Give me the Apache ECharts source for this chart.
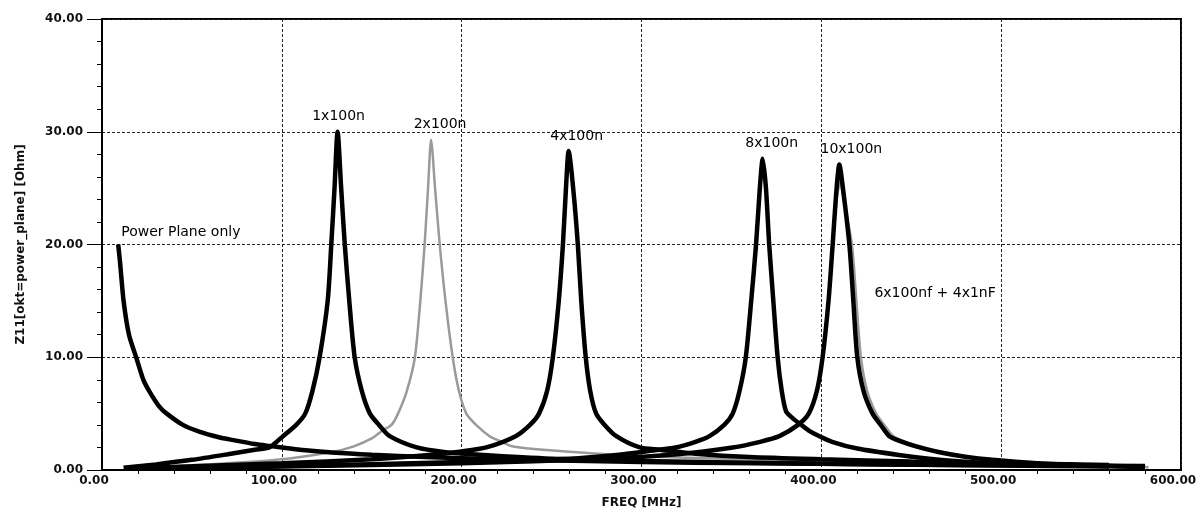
<!DOCTYPE html>
<html>
<head>
<meta charset="utf-8">
<script src="https://cdn.jsdelivr.net/npm/echarts@6/dist/echarts.min.js"></script>
<style>
html,body{margin:0;padding:0;background:#fff;}
#chart{width:1204px;height:515px;}
</style>
</head>
<body>
<div id="chart"></div>
<script>
// [frequency MHz, impedance Ohm]
const powerPlaneOnly = [[9,20],[10,18.5],[12,15],[15,12],[19,10],[23,8],[27,6.8],[32,5.6],[36,5],[45,4],[54,3.4],[65,2.9],[73,2.65],[85,2.3],[92,2.15],[100,2.0],[110,1.8],[128,1.55],[150,1.35],[180,1.15],[220,0.95],[270,0.8],[330,0.65],[400,0.55],[480,0.45],[580,0.35]];
const c1x100n = [[12,0.2],[30,0.5],[50,0.9],[70,1.4],[85,1.8],[93,2],[100.7,3],[108,4],[113,5],[117,7],[121,10],[125.5,15],[127.5,20],[129.3,25],[131,30],[133,25],[135,20],[137.5,15],[140.5,10],[144.5,7],[149,5],[154,4],[160,3],[175,2.0],[190,1.6],[210,1.35],[250,1.0],[300,0.8],[400,0.55],[500,0.4],[560,0.3]];
const c2x100n = [[20,0.2],[60,0.5],[97,0.9],[128,1.6],[140,2.1],[150,2.8],[156,3.5],[161,4],[164.6,5],[169.5,7],[174,10],[177,15],[179.4,20],[181.3,25],[183,29.3],[185.2,25],[187.8,20],[191,15],[195,10],[198.5,7],[202.6,5],[208,4],[215.5,3],[221,2.6],[228,2.1],[249,1.75],[304,1.2],[400,0.8],[500,0.55],[570,0.4]];
const c4x100n = [[20,0.15],[100,0.6],[150,0.95],[180,1.3],[200,1.65],[213.7,2],[230,3],[238,4],[243,5],[247.5,7],[250.7,10],[254,15],[256.3,20],[258,25],[259.5,28.3],[262,25],[264.6,20],[266.5,15],[269,10],[271.5,7],[274.8,5],[279.5,4],[286,3],[299,2],[310,1.8],[330,1.45],[360,1.15],[400,0.95],[450,0.75],[500,0.6],[560,0.45]];
const c8x100n = [[15,0.1],[100,0.35],[200,0.7],[260,1.0],[290,1.4],[305,1.7],[319,2],[330,2.5],[337.8,3],[346,4],[350.7,5],[354.5,7],[358,10],[361,15],[363.7,20],[365.8,25],[367.4,27.6],[369.2,25],[371,20],[373.3,15],[375.7,10],[378,7],[380.4,5.2],[384,4.6],[388,4.1],[393,3.5],[399,3],[406,2.5],[420,1.9],[443,1.33],[460,1.0],[480,0.74],[500,0.55],[540,0.4],[580,0.3]];
const c10x100n = [[15,0.1],[100,0.3],[200,0.6],[280,1.0],[320,1.4],[350.7,2],[366,2.5],[376.7,3],[387,4],[393,5],[397.5,7],[400.7,10],[404,15],[406.3,20],[408.5,25],[410,27.1],[412,25],[415.6,20],[417.8,15],[420,10],[423.5,7],[428.5,5],[433,4],[437.8,3],[445,2.5],[452.6,2.1],[465,1.6],[480,1.18],[495,0.9],[520,0.6],[550,0.4],[580,0.25]];
const c6x100nf4x1nF = [[15,0.1],[100,0.3],[200,0.6],[280,1.0],[320,1.4],[350.7,2],[366,2.5],[376.7,3],[387,4],[393,5],[397.5,7],[400.7,10],[404,15],[406.3,20],[408.5,24],[410.5,25.5],[412.5,24],[417,20],[419.5,15],[422,10],[425.5,7],[430.5,5],[435,4],[440,3],[447,2.5],[455,2.1],[467,1.6],[482,1.18],[497,0.9],[522,0.6],[552,0.4],[582,0.25]];

const xTicks = [0,100,200,300,400,500,600];
const yTicks = [0,10,20,30,40];

const FONT = 'DejaVu Sans';
const labelStyle = {color:'#000', fontFamily:FONT, fontSize:14};

function peakLabel(name, dx){
  return {
    symbol:'circle', symbolSize:0, silent:true,
    itemStyle:{color:'rgba(0,0,0,0)'},
    label:Object.assign({show:true, formatter:name, position:'top', distance:8, offset:[dx,0]}, labelStyle),
    data:[{type:'max'}]
  };
}

function curve(name, data, color, width, mp){
  return {
    name:name, type:'line', data:data, showSymbol:false, symbol:'none',
    smooth:0.25, animation:false,
    lineStyle:{color:color, width:width},
    itemStyle:{color:color},
    markPoint:mp
  };
}

const labelPoint6 = c6x100nf4x1nF.find(p => p[0] > 415 && p[1] === 15);

const chart = echarts.init(document.getElementById('chart'));
chart.setOption({
  backgroundColor:'#fff',
  animation:false,
  grid:{left:102, right:23, top:19, bottom:45, show:true, borderColor:'#000', borderWidth:2, backgroundColor:'#fff'},
  xAxis:{
    type:'value', min:xTicks[0], max:xTicks[xTicks.length-1], interval:100,
    name:'FREQ [MHz]', nameLocation:'middle', nameGap:27,
    nameTextStyle:{color:'#111', fontFamily:FONT, fontSize:12, fontWeight:'bold'},
    axisLine:{show:true, lineStyle:{color:'#000', width:2}},
    axisTick:{show:false},
    minorTick:{show:true, splitNumber:5, length:4, lineStyle:{color:'#000', width:1}},
    axisLabel:{formatter:v=>v.toFixed(2), color:'#111', fontFamily:FONT, fontSize:12, fontWeight:'bold', margin:5, padding:[0,16,0,0]},
    splitLine:{show:true, lineStyle:{color:'#222', width:1, type:[3,2]}},
    minorSplitLine:{show:false}
  },
  yAxis:{
    type:'value', min:yTicks[0], max:yTicks[yTicks.length-1], interval:10,
    name:'Z11[okt=power_plane] [Ohm]', nameLocation:'middle', nameGap:75,
    nameTextStyle:{color:'#111', fontFamily:FONT, fontSize:12, fontWeight:'bold'},
    axisLine:{show:true, lineStyle:{color:'#000', width:2}},
    axisTick:{show:true, inside:false, length:15, lineStyle:{color:'#000', width:1}},
    minorTick:{show:true, splitNumber:5, length:5, lineStyle:{color:'#000', width:1}},
    axisLabel:{formatter:v=>v.toFixed(2), color:'#111', fontFamily:FONT, fontSize:12, fontWeight:'bold', margin:19, padding:[0,0,6,0]},
    splitLine:{show:true, lineStyle:{color:'#222', width:1, type:[3,2]}}
  },
  series:[
    curve('6x100nf + 4x1nF', c6x100nf4x1nF, '#9a9a9a', 2.5, {
      symbol:'circle', symbolSize:0, silent:true, itemStyle:{color:'rgba(0,0,0,0)'},
      label:Object.assign({show:true, formatter:'6x100nf + 4x1nF', position:[18,-15]}, labelStyle),
      data:[{coord:labelPoint6}]
    }),
    curve('2x100n', c2x100n, '#9a9a9a', 2.5, peakLabel('2x100n', 9)),
    curve('Power Plane only', powerPlaneOnly, '#000', 4.5, {
      symbol:'circle', symbolSize:0, silent:true, itemStyle:{color:'rgba(0,0,0,0)'},
      label:Object.assign({show:true, formatter:'Power Plane only', position:[3,-19]}, labelStyle),
      data:[{coord:powerPlaneOnly[0]}]
    }),
    curve('1x100n', c1x100n, '#000', 4.5, peakLabel('1x100n', 1)),
    curve('4x100n', c4x100n, '#000', 4.5, peakLabel('4x100n', 8)),
    curve('8x100n', c8x100n, '#000', 4.5, peakLabel('8x100n', 9)),
    curve('10x100n', c10x100n, '#000', 4.5, peakLabel('10x100n', 12))
  ]
});
</script>
</body>
</html>
